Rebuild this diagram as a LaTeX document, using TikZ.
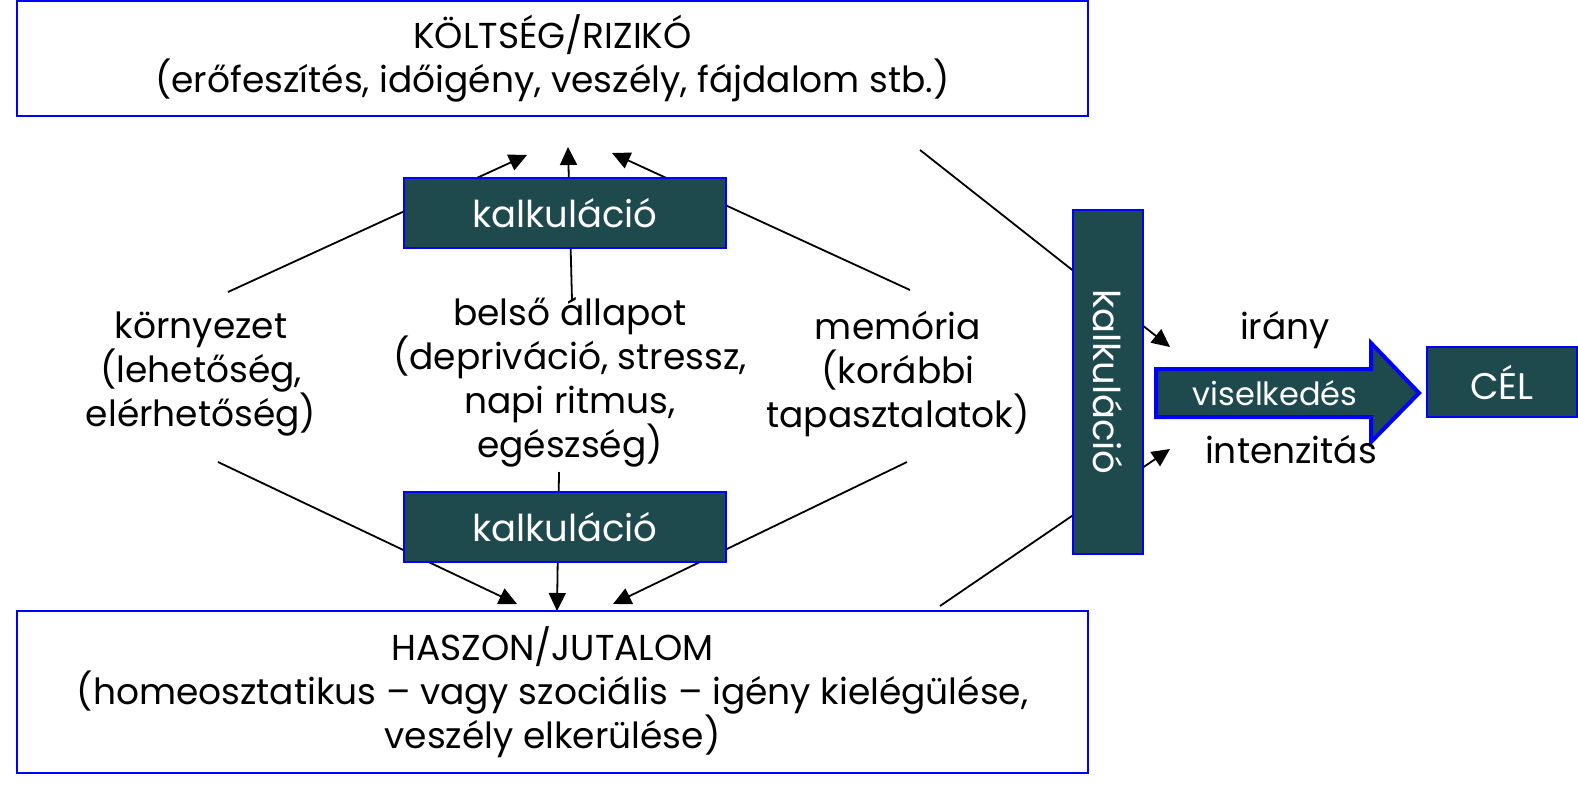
\documentclass[tikz,border=0pt]{standalone}
\usepackage{fontspec}
\setmainfont{Poppins}
\usetikzlibrary{arrows.meta,backgrounds}
\definecolor{boxfill}{RGB}{30,74,78}
\definecolor{bblue}{RGB}{0,0,255}
\begin{document}
\begin{tikzpicture}[x=1pt,y=-1pt,
  wbox/.style={draw=bblue, line width=2pt, fill=white, inner sep=0pt, align=center, font=\fontsize{36}{44}\selectfont},
  dbox/.style={draw=bblue, line width=2pt, fill=boxfill, text=white, inner sep=0pt, font=\fontsize{37}{40}\selectfont},
  lbl/.style={align=center, inner sep=0pt, font=\fontsize{36}{44}\selectfont},
  conn/.style={line width=1.8pt, -{Triangle[length=18pt,width=17pt]}}]
\useasboundingbox (0,0) rectangle (1578,784);
% boxes
\node[wbox, minimum width=1071pt, minimum height=114pt] (cost) at (552.5,58.5)
  {KÖLTSÉG/RIZIKÓ\\(erőfeszítés, időigény, veszély, fájdalom stb.)};
\node[wbox, minimum width=1071pt, minimum height=162pt] (gain) at (552.5,692)
  {HASZON/JUTALOM\\(homeosztatikus – vagy szociális – igény kielégülése,\\veszély elkerülése)};
\node[dbox, minimum width=322pt, minimum height=70pt] (kup) at (565,213) {kalkuláció};
\node[dbox, minimum width=322pt, minimum height=70pt] (kdn) at (565,527) {kalkuláció};
\node[dbox, minimum width=344pt, minimum height=70pt, rotate=-90] (kv) at (1108,382) {kalkuláció};
\node[dbox, minimum width=150pt, minimum height=70pt] (cel) at (1502,382) {CÉL};
% labels
\node[lbl] (env) at (201,374) {környezet\\(lehetőség,\\elérhetőség)};
\node[lbl] (inner) at (570,382) {belső állapot\\(depriváció, stressz,\\napi ritmus,\\egészség)};
\node[lbl] (mem) at (898,374) {memória\\(korábbi\\tapasztalatok)};
% free ends
\coordinate (e1) at (228,292); \coordinate (e1t) at (527,155);
\coordinate (i1) at (572,300); \coordinate (i1t) at (568,147);
\coordinate (m1) at (910,290); \coordinate (m1t) at (612,153);
\coordinate (e2) at (218,462); \coordinate (e2t) at (517,604);
\coordinate (i2) at (559,472); \coordinate (i2t) at (557,611);
\coordinate (m2) at (907,462); \coordinate (m2t) at (613,604);
\coordinate (c1) at (920,150); \coordinate (c1t) at (1170,347);
\coordinate (g1) at (940,606); \coordinate (g1t) at (1170,449);
\begin{scope}[on background layer]
  \draw[conn] (e1) -- (e1t);
  \draw[conn] (i1) -- (i1t);
  \draw[conn] (m1) -- (m1t);
  \draw[conn] (e2) -- (e2t);
  \draw[conn] (i2) -- (i2t);
  \draw[conn] (m2) -- (m2t);
  \draw[conn] (c1) -- (c1t);
  \draw[conn] (g1) -- (g1t);
\end{scope}
% big arrow
\draw[draw=bblue, line width=4pt, fill=boxfill, line join=miter]
  (1156,369) -- (1371,369) -- (1371,343) -- (1419,393) -- (1371,442) -- (1371,417) -- (1156,417) -- cycle;
\node[text=white, inner sep=0pt, font=\fontsize{32}{36}\selectfont] (vis) at (1275,393) {viselkedés};
\node[lbl] (dir) at (1285,330) {irány};
\node[lbl] (int) at (1291,450) {intenzitás};
\end{tikzpicture}
\end{document}
